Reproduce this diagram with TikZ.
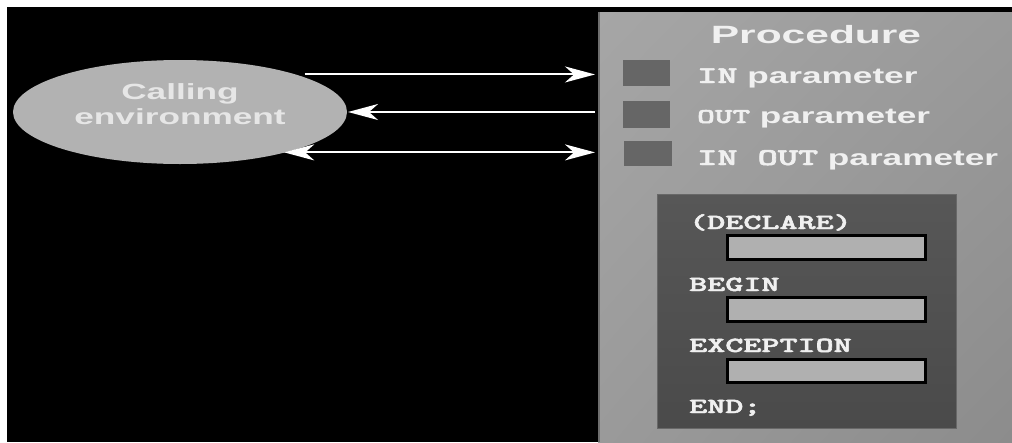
\documentclass[tikz,border=0pt]{standalone}
\usepackage{fontspec}
\setmainfont{Liberation Sans}
\newfontfamily\cour[Extension=.otf,FakeBold=2]{lmmonolt10-bold}
\usetikzlibrary{arrows.meta,shapes.geometric,shadings}
\newcommand\wide[2][1.6]{\scalebox{#1}[1]{#2}}
\definecolor{ellfill}{HTML}{B2B2B2}
\definecolor{paneltl}{HTML}{A6A6A6}
\definecolor{panelmid}{HTML}{9A9A9A}
\definecolor{panelbr}{HTML}{8C8C8C}
\definecolor{paneledge}{HTML}{6E6E6E}
\definecolor{sqfill}{HTML}{666666}
\definecolor{innertl}{HTML}{575757}
\definecolor{innerbr}{HTML}{4A4A4A}
\definecolor{inneredge}{HTML}{686868}
\definecolor{barfill}{HTML}{B0B0B0}
\definecolor{txt}{HTML}{F0F0F0}
\definecolor{elltxt}{HTML}{E6E6E6}
\begin{document}
\begin{tikzpicture}[x=1pt,y=-1pt,
  sqbox/.style={rectangle,fill=sqfill,inner sep=0pt,outer sep=0pt},
  barbox/.style={rectangle,fill=barfill,draw=black,line width=3pt,inner sep=0pt,outer sep=0pt,minimum width=198pt,minimum height=24pt},
  lbl/.style={text=txt,inner sep=0pt,anchor=base west},
  code/.style={text=txt,inner sep=0pt,anchor=base west,font=\cour\fontsize{21.5}{26}\selectfont},
  arr/.style={draw=white,line width=2pt,-{Stealth[length=30pt,width=16pt,inset=9pt]}},
  darr/.style={draw=white,line width=2pt,{Stealth[length=30pt,width=16pt,inset=9pt]}-{Stealth[length=30pt,width=16pt,inset=9pt]}}
]
\useasboundingbox (0,0) rectangle (1012,442);
\fill[white] (0,0) rectangle (1012,442);
\fill[black] (7,7) rectangle (1012,442);
% procedure panel
\shade[upper left=paneltl,upper right=panelmid,lower left=panelmid,lower right=panelbr] (598,12) rectangle (1012,442);
\fill[paneledge] (598,12) rectangle (600,442);
\coordinate (pedge) at (595,0);
% calling environment
\node[ellipse,fill=ellfill,minimum width=334pt,minimum height=104pt,inner sep=0pt,outer sep=0pt] (env) at (180,112) {};
\node[text=elltxt,inner sep=0pt,anchor=base,font=\bfseries\fontsize{22}{26}\selectfont] (t1) at (180,99) {\wide{Calling}};
\node[text=elltxt,inner sep=0pt,anchor=base,font=\bfseries\fontsize{22}{26}\selectfont] (t2) at (180,124) {\wide{environment}};
% title
\node[text=txt,inner sep=0pt,anchor=base,font=\bfseries\fontsize{25}{30}\selectfont] (title) at (816,43) {\wide[1.7]{Procedure}};
% parameter squares
\node[sqbox,minimum width=47pt,minimum height=26pt] (sq1) at (646.5,73) {};
\node[sqbox,minimum width=47pt,minimum height=27pt] (sq2) at (646.5,114.5) {};
\node[sqbox,minimum width=48pt,minimum height=25pt] (sq3) at (648,153.5) {};
\node[lbl,font=\bfseries\fontsize{22}{26}\selectfont] (p1) at (697,83) {\wide{{\cour\fontsize{24}{28}\selectfont IN} parameter}};
\node[lbl,font=\bfseries\fontsize{22}{26}\selectfont] (p2) at (697,123) {\wide{{\cour\fontsize{21}{24}\selectfont OUT} parameter}};
\node[lbl,font=\bfseries\fontsize{22}{26}\selectfont] (p3) at (697,165) {\wide{{\cour\fontsize{24}{28}\selectfont IN OUT} parameter}};
% code block
\shade[upper left=innertl,upper right=innertl,lower left=innerbr,lower right=innerbr] (657,194) rectangle (956,428);
\node[rectangle,draw=inneredge,line width=1pt,minimum width=299pt,minimum height=234pt,inner sep=0pt] (block) at (806.5,311) {};
\node[code] (c1) at (689,229) {\wide{(DECLARE)}};
\node[barbox] (b1) at (826.5,247.5) {};
\node[code] (c2) at (689,291) {\wide{BEGIN}};
\node[barbox] (b2) at (826.5,309.5) {};
\node[code] (c3) at (689,352) {\wide{EXCEPTION}};
\node[barbox,minimum height=23pt] (b3) at (826.5,371) {};
\node[code] (c4) at (689,413) {\wide{END;}};
% arrows
\draw[arr] ([xshift=9pt]env.18) -- (env.18 -| pedge);
\draw[arr] (env.east -| pedge) -- ([xshift=1pt]env.east);
\draw[darr] ([xshift=-1pt]env.-21.7) -- (env.-21.7 -| pedge);
\end{tikzpicture}
\end{document}
